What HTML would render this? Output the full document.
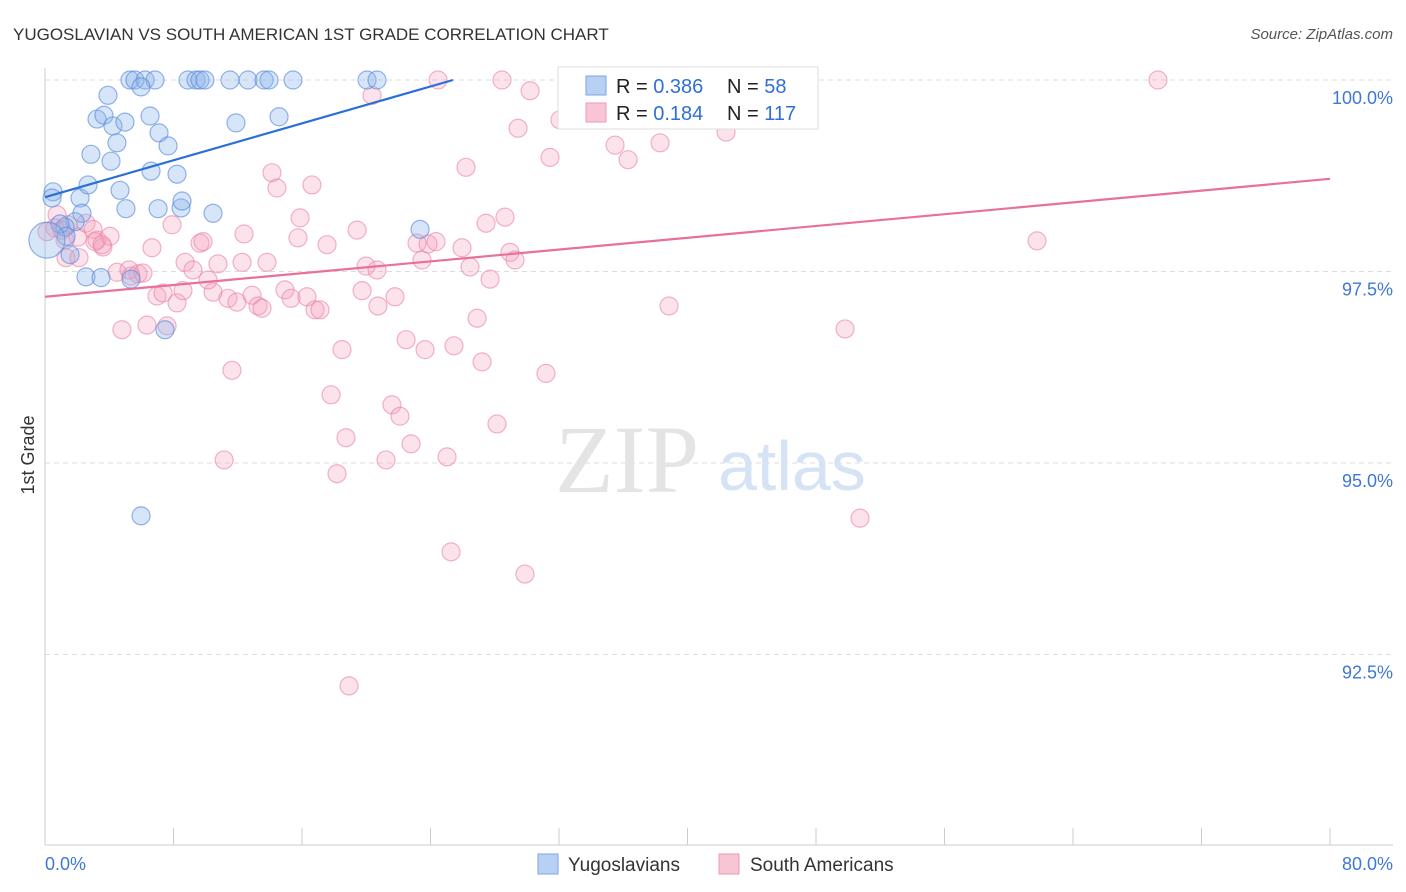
<!DOCTYPE html>
<html><head><meta charset="utf-8"><style>
body{margin:0;background:#fff;}
svg{display:block;font-family:"Liberation Sans",sans-serif;}
</style></head><body>
<svg id="chart" width="1406" height="892">
<text x="13" y="40" font-size="17" fill="#333">YUGOSLAVIAN VS SOUTH AMERICAN 1ST GRADE CORRELATION CHART</text>
<text x="1393" y="39" font-size="15" fill="#555" text-anchor="end" font-style="italic">Source: ZipAtlas.com</text>
<text transform="translate(34,455) rotate(-90)" font-size="18" fill="#333" text-anchor="middle">1st Grade</text>
<g id="grid"></g>
<text x="555" y="492" font-size="96" fill="#e4e4e4" font-family="Liberation Serif,serif">ZIP</text>
<text x="718" y="490" font-size="70" fill="#d5e3f5">atlas</text>
<g id="pts"></g>
<g id="lines"></g>
<g>
<rect x="558" y="67" width="260" height="62" fill="#fff" stroke="#ddd"/>
<rect x="586" y="76" width="20" height="19" fill="#b8d0f2" stroke="#7aa6e4"/>
<rect x="586" y="103" width="20" height="19" fill="#f8c5d5" stroke="#ec9ab5"/>
<text x="616" y="93" font-size="20" fill="#222">R = <tspan fill="#2f6fd8">0.386</tspan></text>
<text x="727" y="93" font-size="20" fill="#222">N = <tspan fill="#2f6fd8"> 58</tspan></text>
<text x="616" y="120" font-size="20" fill="#222">R = <tspan fill="#2f6fd8"> 0.184</tspan></text>
<text x="727" y="120" font-size="20" fill="#222">N = <tspan fill="#2f6fd8">117</tspan></text>
</g>
<g>
<rect x="538" y="854" width="20" height="20" fill="#b8d0f2" stroke="#7aa6e4"/>
<text x="568" y="871" font-size="19" fill="#333">Yugoslavians</text>
<rect x="719" y="854" width="20" height="20" fill="#f8c5d5" stroke="#ec9ab5"/>
<text x="750" y="871" font-size="19" fill="#333">South Americans</text>
</g>
</svg>
<script>
const yTicks=[100,97.5,95,92.5];
const yTickLabels=["100.0%","97.5%","95.0%","92.5%"];
const xTickLabels=["0.0%","80.0%"];
const blueX=[0.50,0.44,2.18,2.68,3.92,3.24,3.67,4.23,4.98,4.48,2.86,4.11,4.67,5.04,2.30,1.87,1.25,0.93,1.31,1.56,2.55,3.49,5.35,7.47,5.98,6.60,8.22,7.04,8.47,8.53,10.46,6.54,7.10,7.66,11.89,14.57,23.35,5.29,5.60,6.23,6.85,8.90,9.40,9.65,9.96,11.52,12.64,13.64,13.95,15.44,20.05,20.67,5.98,0.12];
const blueY=[98.54,98.46,98.46,98.63,99.80,99.49,99.54,99.40,99.45,99.18,99.03,98.94,98.56,98.32,98.26,98.15,98.08,98.12,97.96,97.72,97.43,97.42,97.40,96.74,94.31,98.81,98.77,98.32,98.33,98.42,98.26,99.53,99.31,99.14,99.44,99.52,98.05,100,100,100,100,100,100,100,100,100,100,100,100,100,100,100,99.91,97.91];
const pinkX=[0.75,0.62,1.06,1.43,2.05,2.55,2.99,3.24,3.61,4.05,3.11,3.55,1.31,2.12,4.48,5.23,5.79,6.10,5.35,4.79,6.35,7.60,6.66,7.91,6.97,7.35,8.22,8.72,9.21,9.65,9.84,8.59,10.46,10.15,10.77,11.39,11.95,12.39,12.27,12.89,13.26,13.51,13.82,11.64,11.15,14.13,14.44,15.88,15.75,14.94,15.32,16.31,16.62,16.81,17.12,17.56,18.49,17.81,18.74,18.18,18.93,19.43,19.74,19.99,20.67,20.73,21.79,22.48,20.36,21.23,21.60,22.10,22.79,23.16,23.47,23.85,24.34,23.66,25.03,25.28,25.46,24.47,25.96,26.21,26.46,26.90,27.21,27.71,27.46,28.64,28.14,28.45,28.95,29.26,29.45,30.20,29.88,31.19,31.44,32.06,32.62,35.36,35.49,36.30,38.29,38.85,41.15,42.40,42.34,49.81,50.74,61.76,69.29,0.12,1.25];
const pinkY=[98.24,98.07,98.04,98.11,97.95,98.13,98.05,97.91,97.82,97.96,97.89,97.85,97.68,97.68,97.49,97.52,97.47,97.48,97.44,96.74,96.80,96.79,97.81,98.11,97.18,97.22,97.09,97.62,97.52,97.87,97.89,97.25,97.23,97.39,97.60,97.15,97.10,97.99,97.62,97.19,97.05,97.02,97.62,96.21,95.04,98.79,98.59,98.20,97.94,97.26,97.15,97.17,98.63,97.00,97.00,97.85,96.48,95.89,95.33,94.86,92.09,98.04,97.25,97.57,97.52,97.05,97.17,96.61,99.80,95.04,95.76,95.61,95.25,97.87,97.65,97.86,97.89,96.48,95.08,93.84,96.53,100,97.81,98.86,97.56,96.89,96.32,97.40,98.13,98.21,95.51,100,97.75,97.65,99.37,99.86,93.55,96.17,98.99,99.48,100,99.61,99.15,98.96,99.18,97.05,99.80,99.32,99.66,96.75,94.28,97.90,100,98.02,97.91];
const blueTrend=[0,98.47,25.4,100];
const pinkTrend=[0,97.17,80,98.71];
const X=v=>45+v/80*1285, Y=v=>80+(100-v)/2.5*191.5;
const NS="http://www.w3.org/2000/svg";
function mk(t,a,p){const e=document.createElementNS(NS,t);for(const k in a)e.setAttribute(k,a[k]);p.appendChild(e);return e;}
const g=document.getElementById('grid');
yTicks.forEach((t,i)=>{
 const l=mk('line',{x1:45,x2:1393,y1:Y(t),y2:Y(t),stroke:'#ddd','stroke-dasharray':'5,4'},g);
 
 
 const tx=mk('text',{x:1393,y:Y(t)+24,'font-size':18,fill:'#3f78d4','text-anchor':'end'},g);tx.textContent=yTickLabels[i];
 
 
});
const ax=mk('line',{x1:45,x2:45,y1:68,y2:845,stroke:'#ccc'},g);


const bx=mk('line',{x1:45,x2:1393,y1:845,y2:845,stroke:'#ccc'},g);


for(let i=0;i<=10;i++){const t=mk('line',{x1:X(i*8),x2:X(i*8),y1:828,y2:845,stroke:'#ccc'},g);
 
 }
[[0,'start',45],[1,'end',1393]].forEach(([i,a,x])=>{const t=mk('text',{x:x,y:870,'font-size':18,fill:'#3f78d4','text-anchor':a},g);t.textContent=xTickLabels[i];
 
 });
const p=document.getElementById('pts');
pinkX.forEach((v,i)=>{const c=mk('circle',{cx:X(v),cy:Y(pinkY[i]),r:9,fill:'rgba(244,160,190,0.3)',stroke:'rgba(232,130,165,0.6)','stroke-width':1.2},p);
 
 });
blueX.forEach((v,i)=>{const c=mk('circle',{cx:X(v),cy:Y(blueY[i]),r:i==blueX.length-1?18:9,fill:'rgba(140,180,235,0.35)',stroke:'rgba(90,140,220,0.65)','stroke-width':1.2},p);
 
 });
const L=document.getElementById('lines');
const b=mk('line',{x1:X(blueTrend[0]),y1:Y(blueTrend[1]),x2:X(blueTrend[2]),y2:Y(blueTrend[3]),stroke:'#2b6fd6','stroke-width':2.2},L);


const pk=mk('line',{x1:X(pinkTrend[0]),y1:Y(pinkTrend[1]),x2:X(pinkTrend[2]),y2:Y(pinkTrend[3]),stroke:'#e8709a','stroke-width':2.2},L);


</script>
</body></html>
